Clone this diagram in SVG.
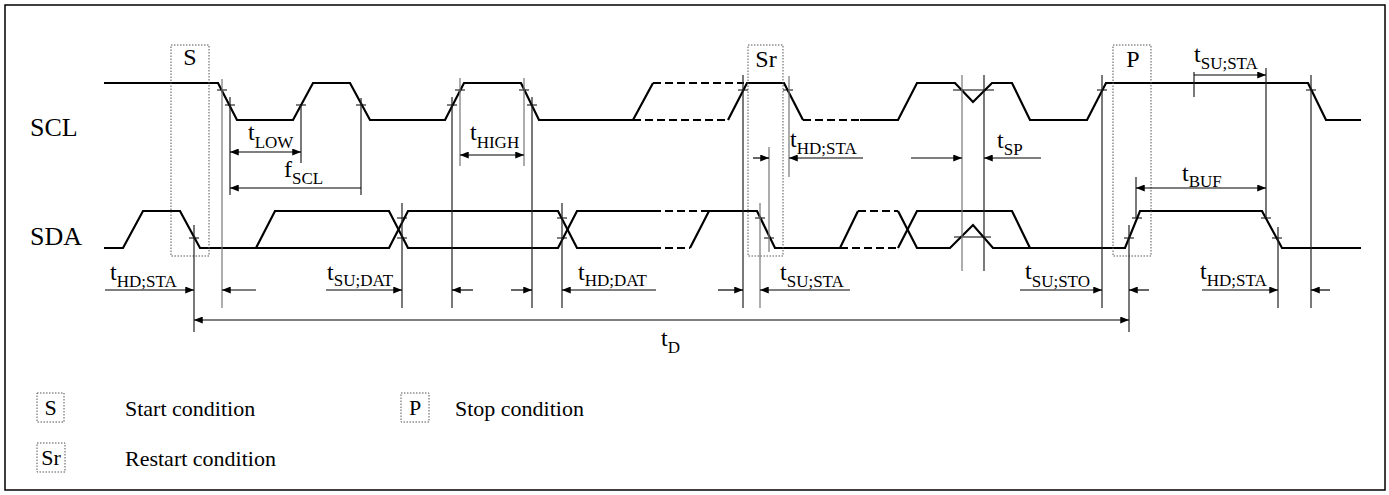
<svg xmlns="http://www.w3.org/2000/svg" width="1389" height="495" viewBox="0 0 1389 495">
<style>
.sig{fill:none;stroke:#000;stroke-width:2.2;stroke-linejoin:miter}
.dash{fill:none;stroke:#000;stroke-width:2.2;stroke-dasharray:8 4}
.tick{stroke:#000;stroke-width:1.2}
.vl{stroke:#222;stroke-width:1.2}
.vg{stroke:#777;stroke-width:1.2}
.arr{stroke:#000;stroke-width:1.2;fill:none}
.box{fill:none;stroke:#555;stroke-width:1;stroke-dasharray:1.5 1.5}
text{font-family:"Liberation Serif","Times New Roman",serif;fill:#000}
.t{font-size:24px}
.sub{font-size:17px}
.big{font-size:24px}
.sl{font-size:26px}
.leg{font-size:22px}
</style>
<defs>
<marker id="ah" viewBox="0 0 10 8" refX="10" refY="4" markerWidth="9" markerHeight="7" markerUnits="userSpaceOnUse" orient="auto-start-reverse"><path d="M0,0 L10,4 L0,8 z" fill="#000"/></marker>
</defs>
<rect x="5" y="5" width="1380" height="485" fill="#fff" stroke="#000" stroke-width="1.5"/>
<g id="labels-signals">
<text class="sl" x="30" y="136">SCL</text>
<text class="sl" x="30" y="245">SDA</text>
</g>
<g id="SCL">
<path class="sig" d="M104,83 H218 L237,120 H293 L313,83 H350 L370,120 H445 L464,83 H521 L539,120 H633 L653,83"/>
<path class="dash" d="M653,83 H744 M633,120 H728 M803,120 H860"/>
<path class="sig" d="M728,120 L747,83 H784 L803,120"/>
<path class="sig" d="M860,120 H898 L917,83 H955 L973,102 L992,83 H1012 L1030,120 H1087 L1106,83 H1308 L1326,120 H1361"/>
<path class="tick" d="M217,90 h10 M225,105 h10 M296,105 h10 M356,105 h10 M447,105 h10 M455,90 h10 M519,90 h10 M527,105 h10 M738,90 h10 M783,90 h10 M953,90 H994 M1097,90 h10 M1306,90 h10"/>
</g>
<g id="SDA">
<path class="sig" d="M104,248 H123 L143,211 H180 L200,248 H389 L408,211 H558 L577,248 H653"/>
<path class="sig" d="M256,248 L275,211 H389 L408,248 H558 L577,211 H653"/>
<path class="dash" d="M653,211 H709 M653,248 H690 M858,211 H898 M840,248 H898"/>
<path class="sig" d="M690,248 L709,211 H757 L775,248 H840 L858,211"/>
<path class="sig" d="M898,211 L917,248 H950 L973,225 L993,248 H1125 L1140,211 H1262 L1282,248 H1361"/>
<path class="sig" d="M898,248 L917,211 H1012 L1030,248"/>
<path class="tick" d="M189,238 h10 M397,218 h10 M397,238 h10 M557,218 h10 M557,238 h10 M755,218 h10 M764,238 h10 M1124,238 h10 M1132,218 h10 M1261,218 h10 M1272,238 h10 M954,237 H991"/>
</g>
<g id="S">
<rect class="box" x="171" y="45" width="38" height="211"/>
<text class="big" x="190" y="65" text-anchor="middle">S</text>
</g>
<g id="Sr">
<rect class="box" x="748" y="45" width="35" height="211"/>
<text class="big" x="766" y="67" text-anchor="middle">Sr</text>
</g>
<g id="P">
<rect class="box" x="1113" y="45" width="38" height="211"/>
<text class="big" x="1133" y="67" text-anchor="middle">P</text>
</g>
<g id="guides">
<path class="vg" d="M222,79 V308"/>
<path class="vl" d="M230,97 V195 M301,105 V163 M361,98 V195 M402,203 V308 M452,97 V308 M532,97 V308 M562,203 V308 M743,75 V308"/>
<path class="vg" d="M460,78 V166 M524,78 V166 M760,203 V308 M769,147 V252 M789,76 V177 M962,75 V271"/>
<path class="vl" d="M984,75 V271 M1102,75 V308 M1129,225 V332 M1136,177 V218 M1194,72 V97 M1266,68 V218 M1278,227 V308 M1311,75 V308 M194,225 V332"/>
</g>
<g id="connectors">
<path class="arr" d="M301,152 H230" marker-start="url(#ah)" marker-end="url(#ah)"/>
<path class="arr" d="M361,188 H230" marker-end="url(#ah)"/>
<path class="arr" d="M460,155 H524" marker-start="url(#ah)" marker-end="url(#ah)"/>
<path class="arr" d="M753,158 H769" marker-end="url(#ah)"/>
<path class="arr" d="M863,158 H789" marker-end="url(#ah)"/>
<path class="arr" d="M911,158 H962" marker-end="url(#ah)"/>
<path class="arr" d="M1041,158 H984" marker-end="url(#ah)"/>
<path class="arr" d="M1194,75 H1266" marker-end="url(#ah)"/>
<path class="arr" d="M1136,188 H1266" marker-start="url(#ah)" marker-end="url(#ah)"/>
<path class="arr" d="M105,290 H194" marker-end="url(#ah)"/>
<path class="arr" d="M256,290 H222" marker-end="url(#ah)"/>
<path class="arr" d="M326,290 H402" marker-end="url(#ah)"/>
<path class="arr" d="M473,290 H452" marker-end="url(#ah)"/>
<path class="arr" d="M511,290 H532" marker-end="url(#ah)"/>
<path class="arr" d="M656,290 H562" marker-end="url(#ah)"/>
<path class="arr" d="M718,290 H743" marker-end="url(#ah)"/>
<path class="arr" d="M850,290 H760" marker-end="url(#ah)"/>
<path class="arr" d="M1020,290 H1102" marker-end="url(#ah)"/>
<path class="arr" d="M1149,290 H1129" marker-end="url(#ah)"/>
<path class="arr" d="M1202,290 H1278" marker-end="url(#ah)"/>
<path class="arr" d="M1330,290 H1311" marker-end="url(#ah)"/>
<path class="arr" d="M194,320 H1129" marker-start="url(#ah)" marker-end="url(#ah)"/>
</g>
<g id="timing-labels">
<text class="t" x="248" y="140">t<tspan class="sub" dy="8">LOW</tspan></text>
<text class="t" x="284" y="177">f<tspan class="sub" dy="7">SCL</tspan></text>
<text class="t" x="470" y="140">t<tspan class="sub" dy="8">HIGH</tspan></text>
<text class="t" x="790" y="147">t<tspan class="sub" dy="7">HD;STA</tspan></text>
<text class="t" x="997" y="148">t<tspan class="sub" dy="7">SP</tspan></text>
<text class="t" x="1194" y="62">t<tspan class="sub" dy="7">SU;STA</tspan></text>
<text class="t" x="1182" y="181">t<tspan class="sub" dy="6">BUF</tspan></text>
<text class="t" x="110" y="280">t<tspan class="sub" dy="7">HD;STA</tspan></text>
<text class="t" x="327" y="280">t<tspan class="sub" dy="6">SU;DAT</tspan></text>
<text class="t" x="578" y="280">t<tspan class="sub" dy="6">HD;DAT</tspan></text>
<text class="t" x="780" y="280">t<tspan class="sub" dy="7">SU;STA</tspan></text>
<text class="t" x="1025" y="279">t<tspan class="sub" dy="8">SU;STO</tspan></text>
<text class="t" x="1200" y="279">t<tspan class="sub" dy="7">HD;STA</tspan></text>
<text class="t" x="661" y="346">t<tspan class="sub" dy="7">D</tspan></text>
</g>
<g id="legend">
<g id="legend-S"><rect class="box" x="37" y="393" width="27" height="29"/><text class="leg" x="50.5" y="415" text-anchor="middle">S</text><text class="leg" x="125" y="416">Start condition</text></g>
<g id="legend-P"><rect class="box" x="401" y="393" width="28" height="29"/><text class="leg" x="415" y="415" text-anchor="middle">P</text><text class="leg" x="455" y="416">Stop condition</text></g>
<g id="legend-Sr"><rect class="box" x="37" y="443" width="28" height="29"/><text class="leg" x="51" y="465" text-anchor="middle">Sr</text><text class="leg" x="125" y="466">Restart condition</text></g>
</g>
</svg>
